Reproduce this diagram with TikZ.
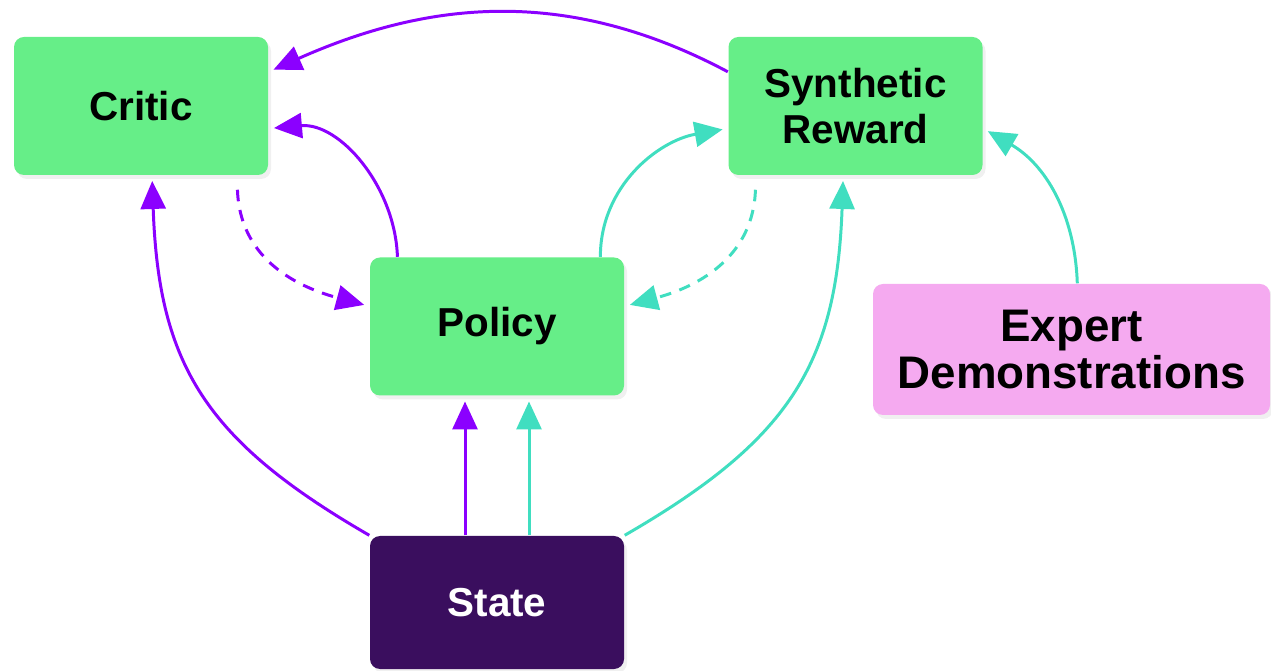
\documentclass[tikz,border=0pt]{standalone}
\usepackage{fontspec}
\setmainfont{Liberation Sans}
\usepackage{tikz}
\usetikzlibrary{arrows.meta,positioning,shadows}

\definecolor{boxgreen}{RGB}{102,238,136}
\definecolor{statepurple}{RGB}{58,14,94}
\definecolor{expertpink}{RGB}{245,170,240}
\definecolor{arrowpurple}{RGB}{139,0,255}
\definecolor{arrowteal}{RGB}{64,222,192}

\tikzset{
	block/.style={rectangle,rounded corners=0.1cm,minimum width=2.54cm,minimum height=1.38cm,align=center,inner sep=0pt,
		font=\bfseries\fontsize{11.5}{13}\selectfont,
		drop shadow={opacity=0.12,shadow xshift=0.03cm,shadow yshift=-0.04cm}},
	greenbox/.style={block,fill=boxgreen},
	tip/.style={-{Triangle[length=0.28cm,width=0.25cm]},line width=0.85pt,shorten >=1.5pt},
	purp/.style={tip,draw=arrowpurple},
	teal/.style={tip,draw=arrowteal},
	dashline/.style={dash pattern=on 3.3pt off 2.5pt,shorten <=4pt}
}

\begin{document}
\begin{tikzpicture}
		\useasboundingbox (0,0) rectangle (12.71,6.70);
		\node[greenbox] (critic) at (1.41,5.64) {Critic};
		\node[greenbox] (synth) at (8.555,5.64) {Synthetic\\Reward};
		\node[greenbox] (policy) at (4.97,3.435) {Policy};
		\node[block,fill=statepurple,text=white,minimum height=1.33cm] (state) at (4.97,0.675) {State};
		\node[block,fill=expertpink,minimum width=3.97cm,minimum height=1.31cm,font=\bfseries\fontsize{13}{13.5}\selectfont] (expert) at (10.715,3.205) {Expert\\Demonstrations};

		\draw[purp] (synth.165) to[out=152,in=24] (critic.15);
		\draw[purp] (policy.145) to[out=92,in=5] (critic.-10);
		\draw[purp,dashline] (critic.-36) to[out=-88,in=165,looseness=1.1] (policy.171);
		\draw[teal] (policy.34) to[out=90,in=190] (synth.190);
		\draw[teal,dashline] (synth.-145) to[out=-92,in=15,looseness=1.1] (policy.9);
		\draw[purp] (state.north west) to[out=150,in=-88,looseness=1.15] (critic.-81);
		\draw[purp] ([xshift=-0.32cm]state.north) -- ([xshift=-0.32cm]policy.south);
		\draw[teal] ([xshift=0.32cm]state.north) -- ([xshift=0.32cm]policy.south);
		\draw[teal] (state.north east) to[out=30,in=-92,looseness=1.15] (synth.-100);
		\draw[teal] (expert.85) to[out=92,in=-30] (synth.-10);
	\end{tikzpicture}
\end{document}
